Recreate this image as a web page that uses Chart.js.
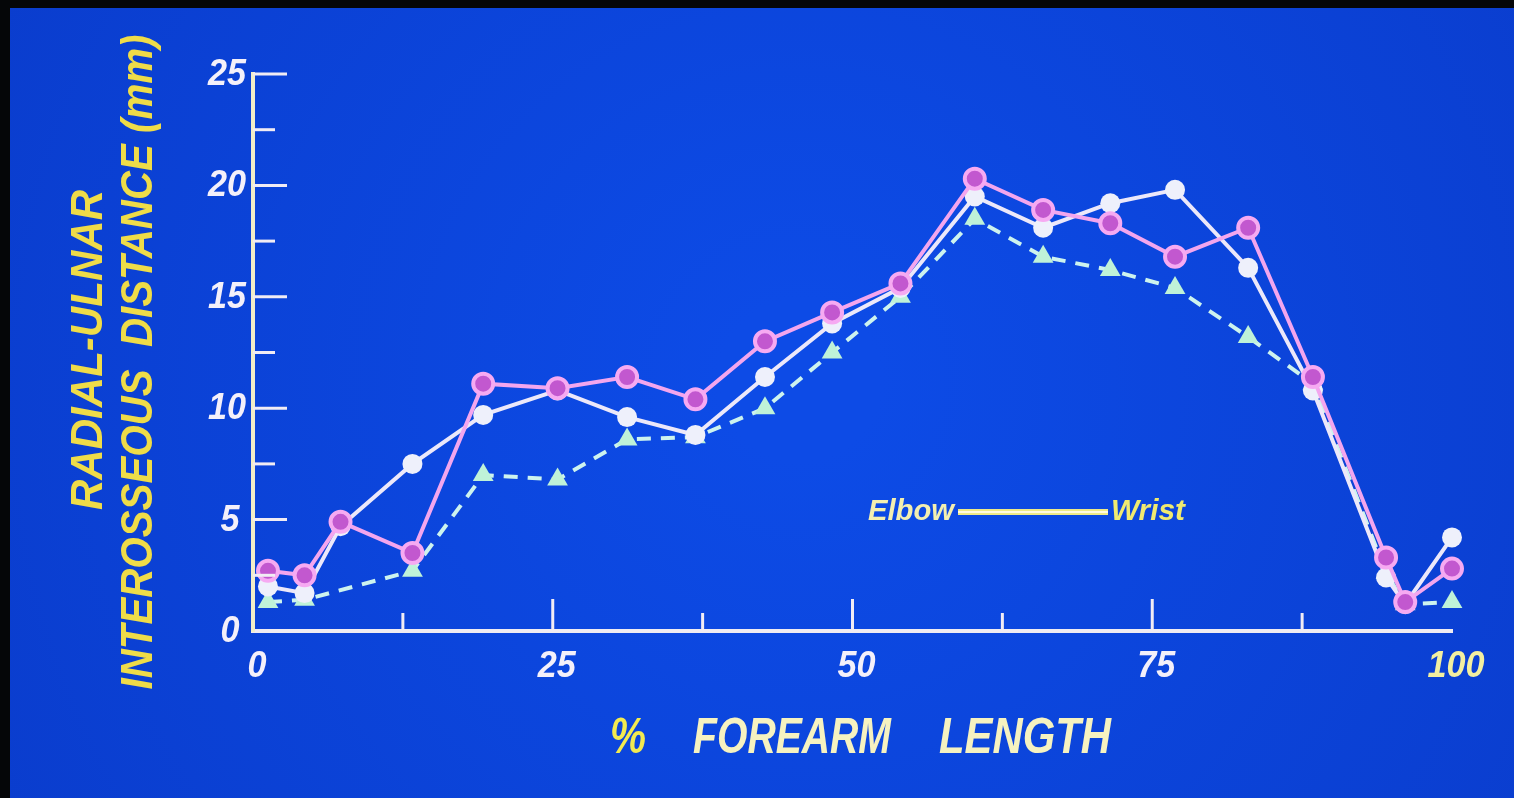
<!DOCTYPE html>
<html>
<head>
<meta charset="utf-8">
<script src="https://cdn.jsdelivr.net/npm/chart.js@4/dist/chart.umd.min.js"></script>
<style>
  html, body { margin: 0; padding: 0; background: #050608; }
  #wrap { width: 1514px; height: 798px; }
</style>
</head>
<body>
<div id="wrap"><canvas id="forearm-chart"></canvas></div>
<script>
// % forearm length where the distance was measured
const positions = [1.25, 4.3, 7.3, 13.3, 19.2, 25.4, 31.2, 36.9, 42.7, 48.3, 54.0, 60.2, 65.9, 71.5, 76.9, 83.0, 88.4, 94.5, 96.1, 100];
// radial-ulnar interosseous distance (mm), one list per curve
const circleSeries = [2.7, 2.5, 4.9, 3.5, 11.1, 10.9, 11.4, 10.4, 13.0, 14.3, 15.6, 20.3, 18.9, 18.3, 16.8, 18.1, 11.4, 3.3, 1.3, 2.8];
const dotSeries = [2.0, 1.7, 4.7, 7.5, 9.7, 10.8, 9.6, 8.8, 11.4, 13.8, 15.4, 19.5, 18.1, 19.2, 19.8, 16.3, 10.8, 2.4, 1.2, 4.2];
const triangleSeries = [1.3, 1.4, null, 2.7, 7.0, 6.8, 8.6, 8.7, 10.0, 12.5, 15.0, 18.5, 16.8, 16.2, 15.4, 13.2, 11.1, 2.6, 1.2, 1.3];

const xTickLabels = ["0", "25", "50", "75", "100"];
const yTickLabels = ["0", "5", "10", "15", "20", "25"];
const xTitle = ["%", "FOREARM", "LENGTH"];
const yTitle = ["RADIAL-ULNAR", "INTEROSSEOUS  DISTANCE (mm)"];
const legendWords = ["Elbow", "Wrist"];

function toPoints(values) {
  return positions.map(function (x, i) { return { x: x, y: values[i] }; });
}

// draw text squeezed/stretched to a given width
function fitText(ctx, text, cx, cy, width, font, color, angle) {
  ctx.save();
  ctx.font = font;
  ctx.fillStyle = color;
  ctx.textAlign = "center";
  ctx.textBaseline = "middle";
  ctx.translate(cx, cy);
  if (angle) ctx.rotate(angle);
  const w = ctx.measureText(text).width;
  ctx.scale(width / w, 1);
  ctx.fillText(text, 0, 0);
  ctx.restore();
}

const slidePlugin = {
  id: "slide",
  beforeDraw(chart) {
    const ctx = chart.ctx;
    ctx.save();
    ctx.fillStyle = "#050608";
    ctx.fillRect(0, 0, chart.width, chart.height);
    const g = ctx.createRadialGradient(800, 380, 80, 800, 400, 950);
    g.addColorStop(0, "#0d4be6");
    g.addColorStop(1, "#0a3ccc");
    ctx.fillStyle = g;
    ctx.fillRect(10, 8, chart.width - 10, chart.height - 8);
    ctx.restore();
  },
  afterDatasetsDraw(chart) {
    const ctx = chart.ctx;
    const xs = chart.scales.x;
    const ys = chart.scales.y;
    const left = chart.chartArea.left;
    const bottom = chart.chartArea.bottom;
    const tickFont = "italic bold 36px 'Liberation Sans', Arial, sans-serif";

    ctx.save();
    ctx.lineWidth = 3;
    // y ticks point into the plot
    ctx.strokeStyle = "#f1ecf4";
    for (let v = 2.5; v <= 25; v += 2.5) {
      const py = ys.getPixelForValue(v);
      const len = v % 5 === 0 ? 34 : 22;
      ctx.beginPath();
      ctx.moveTo(left, py);
      ctx.lineTo(left + len, py);
      ctx.stroke();
    }
    for (let v = 12.5; v < 100; v += 12.5) {
      const px = xs.getPixelForValue(v);
      const len = v % 25 === 0 ? 32 : 18;
      ctx.beginPath();
      ctx.moveTo(px, bottom);
      ctx.lineTo(px, bottom - len);
      ctx.stroke();
    }
    ctx.restore();

    // tick labels
    yTickLabels.forEach(function (t) {
      const py = ys.getPixelForValue(Number(t));
      fitText(ctx, t, 230 - (t.length - 1) * 3, py + 1, t.length * 19, tickFont, "#f4f0fa", 0);
    });
    xTickLabels.forEach(function (t) {
      const px = xs.getPixelForValue(Number(t));
      fitText(ctx, t, px + 4, 667, t.length * 19, tickFont, t === "100" ? "#f3efa0" : "#f4f0fa", 0);
    });

    // axis titles
    const titleFont = "italic bold 50px 'Liberation Sans', Arial, sans-serif";
    fitText(ctx, xTitle[0], 628, 739, 36, titleFont, "#f2ea50", 0);
    fitText(ctx, xTitle[1], 792, 739, 198, titleFont, "#f6f2c0", 0);
    fitText(ctx, xTitle[2], 1025, 739, 172, titleFont, "#f6f2c0", 0);
    const yFont = "italic bold 44px 'Liberation Sans', Arial, sans-serif";
    fitText(ctx, yTitle[0], 90, 350, 320, yFont, "#efdc48", -Math.PI / 2);
    fitText(ctx, yTitle[1], 140, 362, 655, yFont, "#efdc48", -Math.PI / 2);

    // elbow -> wrist key
    const keyFont = "italic bold 30px 'Liberation Sans', Arial, sans-serif";
    fitText(ctx, legendWords[0], 911, 512, 86, keyFont, "#f3efb0", 0);
    fitText(ctx, legendWords[1], 1148, 512, 74, keyFont, "#f0ea70", 0);
    ctx.save();
    ctx.strokeStyle = "#eeea88";
    ctx.lineWidth = 6;
    ctx.beginPath();
    ctx.moveTo(958, 512);
    ctx.lineTo(1108, 512);
    ctx.stroke();
    ctx.strokeStyle = "#fffbe0";
    ctx.lineWidth = 2;
    ctx.stroke();
    ctx.restore();
  }
};

const chartData = {
  datasets: [
    {
      data: toPoints(circleSeries),
      borderColor: "#f3a6ee",
      borderWidth: 4,
      pointStyle: "circle",
      pointRadius: 10,
      pointBorderWidth: 4,
      pointBorderColor: "#f6aaf2",
      pointBackgroundColor: "#c258cf",
      order: 0,
      clip: false,
    },
    {
      data: toPoints(dotSeries),
      borderColor: "#ece8fa",
      borderWidth: 4,
      pointStyle: "circle",
      pointRadius: 10,
      pointBorderWidth: 0,
      pointBackgroundColor: "#eef0fb",
      order: 1,
      clip: false,
    },
    {
      data: toPoints(triangleSeries),
      borderColor: "#cdf3ee",
      borderWidth: 4,
      borderDash: [14, 10],
      spanGaps: true,
      pointStyle: "triangle",
      pointRadius: 12,
      pointBorderWidth: 0,
      pointBackgroundColor: "#bff2d8",
      order: 2,
      clip: false,
    },
  ],
};

const chartOptions = {
  responsive: true,
  maintainAspectRatio: false,
  animation: false,
  layout: {
    padding: { left: 253, top: 74, right: 62, bottom: 167 },
  },
  plugins: {
    legend: { display: false },
    tooltip: { enabled: false },
  },
  elements: {
    line: { tension: 0 },
  },
  scales: {
    x: {
      type: "linear",
      min: 0,
      max: 100,
      ticks: { display: false },
      grid: { drawOnChartArea: false, drawTicks: false },
      border: { display: true, color: "#f0ecf2", width: 4 },
    },
    y: {
      type: "linear",
      min: 0,
      max: 25,
      ticks: { display: false },
      grid: { drawOnChartArea: false, drawTicks: false },
      border: { display: true, color: "#f2eec8", width: 4 },
    },
  },
};

const ctx = document.getElementById("forearm-chart");
new Chart(ctx, {
  type: "line",
  data: chartData,
  options: chartOptions,
  plugins: [slidePlugin],
});
</script>
</body>
</html>
